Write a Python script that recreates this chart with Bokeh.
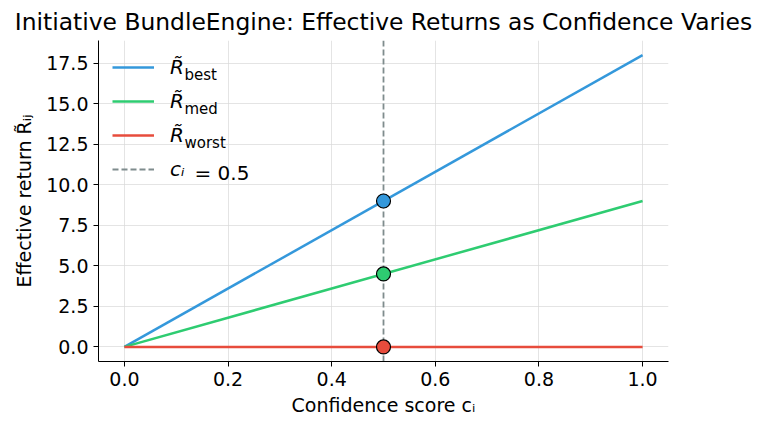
from bokeh.plotting import figure
from bokeh.models import Legend, LegendItem, Label, Range1d, FixedTicker
from bokeh.embed import file_html
from bokeh.resources import INLINE

# Data
conf = [0.0, 1.0]
r_best = [0.0, 18.0]
r_med = [0.0, 9.0]
r_worst = [0.0, 0.0]
c_mark = 0.5
mark_x = [0.5, 0.5, 0.5]
mark_y = [9.0, 4.5, 0.0]
mark_colors = ["#3498db", "#2ecc71", "#e74c3c"]
x_ticks = [0.0, 0.2, 0.4, 0.6, 0.8, 1.0]
y_ticks = [0.0, 2.5, 5.0, 7.5, 10.0, 12.5, 15.0, 17.5]
subs = ["best", "med", "worst"]

FONT = "DejaVu Sans"

p = figure(width=754, height=420, output_backend="svg", toolbar_location=None,
           x_range=Range1d(-0.05, 1.05), y_range=Range1d(-0.9, 18.9),
           min_border_left=98, min_border_right=86, min_border_top=35, min_border_bottom=59)

p.title.text = "Initiative BundleEngine: Effective Returns as Confidence Varies"
p.title.text_font = FONT
p.title.text_font_size = "23.4px"
p.title.text_font_style = "normal"
p.title.align = "center"
p.title.text_color = "#000000"

p.outline_line_color = None
for ax in (p.xaxis, p.yaxis):
    ax.axis_line_color = "#000000"
    ax.major_tick_line_color = "#000000"
    ax.minor_tick_line_color = None
    ax.major_tick_out = 5
    ax.major_tick_in = 0
    ax.major_label_text_font = FONT
    ax.major_label_text_font_size = "19px"
    ax.major_label_text_color = "#000000"
    ax.axis_label_text_font = FONT
    ax.axis_label_text_font_size = "19px"
    ax.axis_label_text_font_style = "normal"
    ax.axis_label_text_color = "#000000"

p.xaxis.ticker = FixedTicker(ticks=x_ticks)
p.yaxis.ticker = FixedTicker(ticks=y_ticks)
p.xaxis.major_label_overrides = {t: f"{t:.1f}" for t in x_ticks}
p.yaxis.major_label_overrides = {t: f"{t:.1f}" for t in y_ticks}
p.xaxis.axis_label = "Confidence score cᵢ"
p.yaxis.axis_label = "Effective return R̃ᵢⱼ"
p.xaxis.axis_label_standoff = 5
p.yaxis.axis_label_standoff = 8

p.grid.grid_line_color = "#d9d9d9"
p.grid.grid_line_alpha = 0.7

l_best = p.line(conf, r_best, line_color="#3498db", line_width=2.5)
l_med = p.line(conf, r_med, line_color="#2ecc71", line_width=2.5)
l_worst = p.line(conf, r_worst, line_color="#e74c3c", line_width=2.5)
vl = p.line([c_mark, c_mark], [-0.9, 18.9], line_color="#7f8c8d", line_width=1.8, line_dash="6 3")

p.scatter(mark_x, mark_y, size=14, fill_color=mark_colors, line_color="#000000", line_width=1.2)

legend = Legend(items=[
    LegendItem(label="R̃", renderers=[l_best]),
    LegendItem(label="R̃", renderers=[l_med]),
    LegendItem(label="R̃", renderers=[l_worst]),
    LegendItem(label="cᵢ", renderers=[vl]),
], location="top_left", margin=14, padding=17, spacing=8,
    glyph_width=42, glyph_height=26, label_height=26, label_standoff=16,
    label_text_font=FONT, label_text_font_size="20px", label_text_font_style="italic",
    label_text_color="#000000",
    border_line_color=None, background_fill_alpha=0.0)
p.add_layout(legend, "center")

# subscripts of the legend labels (screen units, relative to frame bottom-left)
for i, s in enumerate(subs):
    p.add_layout(Label(x=86, y=287 - 34 * i, x_units="screen", y_units="screen", text=s,
                       text_font=FONT, text_font_size="15px", text_color="#000000",
                       text_baseline="middle"))
p.add_layout(Label(x=96, y=189, x_units="screen", y_units="screen", text="= 0.5",
                   text_font=FONT, text_font_size="20px", text_color="#000000",
                   text_baseline="middle"))

html = file_html(p, INLINE)
open("out.html", "w").write(html)
